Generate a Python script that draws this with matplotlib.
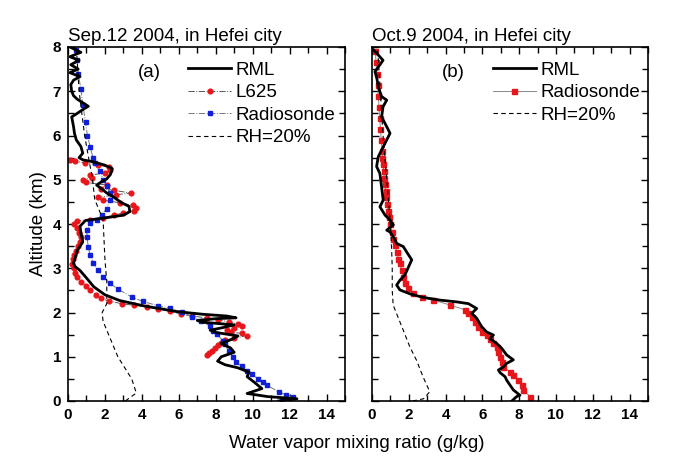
import matplotlib
matplotlib.use("Agg")
import matplotlib.pyplot as plt
from matplotlib.ticker import MultipleLocator

plt.rcParams['font.family'] = ['Liberation Sans', 'DejaVu Sans']

# ---------------- Panel (a): Sep.12 2004 ----------------
rml_a_x = [11.4, 12.4, 10.8, 9.7, 10.5, 10.1, 9.7, 9.8, 9.2, 8.5, 8.1, 8.3, 9.0, 8.8, 8.3, 8.9, 9.2,
           8.0, 7.7, 8.4, 9.0, 7.3, 7.0, 8.0, 9.1, 8.6, 7.3, 5.9, 4.1, 2.8, 2.0, 1.4, 1.0, 0.65, 0.35,
           0.3, 0.4, 0.5, 0.8, 0.7, 0.65, 0.95, 2.2, 3.0, 3.35, 3.3, 2.9, 2.5, 2.1, 1.8, 1.55, 1.8,
           2.1, 2.3, 2.4, 2.0, 1.3, 0.8, 0.6, 0.8, 0.7, 0.45, 0.35, 0.3, 0.2, 0.5, 0.85, 1.1, 0.8,
           0.5, 0.3, 0.2, 0.15, 0.3, 0.65, 0.1, 0.55, 0.15, 0.6, 0.1, 0.7, 0.2]
rml_a_y = [0.00, 0.05, 0.10, 0.17, 0.28, 0.42, 0.55, 0.65, 0.75, 0.82, 0.90, 1.00, 1.10, 1.20, 1.30,
           1.40, 1.47, 1.55, 1.60, 1.66, 1.72, 1.78, 1.82, 1.86, 1.88, 1.92, 1.96, 2.02, 2.15, 2.27,
           2.40, 2.58, 2.78, 2.95, 3.05, 3.12, 3.25, 3.40, 3.60, 3.80, 3.95, 4.08, 4.15, 4.20, 4.28,
           4.40, 4.48, 4.60, 4.70, 4.80, 4.88, 4.95, 5.02, 5.12, 5.25, 5.33, 5.41, 5.45, 5.50, 5.60,
           5.75, 5.90, 6.05, 6.20, 6.42, 6.50, 6.60, 6.66, 6.74, 6.82, 6.90, 7.00, 7.15, 7.25, 7.33,
           7.42, 7.50, 7.60, 7.70, 7.78, 7.88, 7.98]

l625_a_x = [7.5, 7.65, 7.8, 7.95, 8.1, 8.3, 8.5, 9.0, 9.7, 9.4, 8.8, 8.6, 9.0, 9.4, 9.2, 8.7, 8.1,
            7.5, 6.7, 6.1, 5.5, 4.9, 4.3, 3.6, 2.9, 2.2, 1.8, 1.5, 1.2, 0.95, 0.7, 0.5, 0.4, 0.3,
            0.2, 0.25, 0.35, 0.45, 0.55, 0.65, 0.7, 0.6, 0.5, 0.3, 0.5, 1.2, 1.9, 2.5, 3.0, 3.6,
            3.7, 3.5, 2.8, 1.9, 1.6, 2.6, 3.4, 2.5, 1.8, 2.1, 1.0, 0.8, 1.3, 1.2, 2.0, 2.3, 2.2,
            1.6, 0.9, 0.4, 0.1]
l625_a_y = [1.04, 1.09, 1.14, 1.20, 1.26, 1.32, 1.38, 1.42, 1.48, 1.53, 1.55, 1.60, 1.64, 1.69,
            1.74, 1.79, 1.84, 1.88, 1.92, 1.97, 2.03, 2.08, 2.13, 2.16, 2.20, 2.26, 2.32, 2.40,
            2.50, 2.60, 2.70, 2.80, 2.90, 3.00, 3.10, 3.20, 3.30, 3.40, 3.50, 3.60, 3.70, 3.80,
            3.90, 4.00, 4.07, 4.10, 4.14, 4.20, 4.25, 4.30, 4.36, 4.42, 4.48, 4.54, 4.60, 4.66,
            4.70, 4.76, 4.80, 4.88, 4.94, 5.00, 5.05, 5.10, 5.16, 5.22, 5.28, 5.34, 5.38, 5.42,
            5.45]

sonde_a_x = [11.6, 12.2, 11.8, 11.4, 10.75, 10.56, 10.3, 9.94, 9.67, 9.4, 9.1, 8.95, 8.7, 8.5,
             8.4, 8.05, 7.85, 7.67, 7.2, 6.7, 6.2, 5.5, 4.9, 4.05, 3.45, 2.7, 2.27, 1.9, 1.62,
             1.37, 1.2, 1.1, 1.03, 1.03, 1.2, 1.55, 1.82, 2.1, 2.27, 2.27, 2.1, 1.9, 1.75, 1.45,
             1.35, 1.2, 1.05, 0.95, 0.8, 0.7, 0.55, 0.5, 0.45]
sonde_a_y = [0.03, 0.10, 0.14, 0.21, 0.36, 0.44, 0.50, 0.60, 0.68, 0.78, 0.88, 1.00, 1.13, 1.28,
             1.36, 1.51, 1.58, 1.70, 1.81, 1.90, 2.01, 2.10, 2.15, 2.25, 2.35, 2.53, 2.66, 2.81,
             2.96, 3.11, 3.30, 3.48, 3.70, 3.86, 4.02, 4.09, 4.20, 4.35, 4.54, 4.70, 4.85, 5.00,
             5.20, 5.37, 5.50, 5.75, 6.00, 6.30, 6.70, 7.05, 7.40, 7.70, 7.93]

rh_a_x = [3.1, 3.7, 3.45, 2.7, 2.2, 1.9, 1.85, 2.1, 2.1, 2.0, 1.9, 1.45, 1.3, 1.2, 0.9, 0.6, 0.45]
rh_a_y = [0.00, 0.18, 0.50, 1.00, 1.50, 1.80, 2.00, 2.20, 2.70, 3.20, 4.10, 4.55, 5.10, 5.30,
          6.00, 7.00, 8.00]

# ---------------- Panel (b): Oct.9 2004 ----------------
rml_b_x = [7.6, 7.86, 8.04, 7.68, 7.5, 7.32, 7.23, 6.96, 6.87, 7.14, 7.32, 7.68, 7.32, 7.05, 6.78,
           6.41, 6.6, 6.23, 5.96, 5.69, 5.42, 5.69, 5.24, 4.6, 3.7, 2.79, 2.07, 1.52, 1.34, 1.52,
           1.79, 2.16, 1.88, 1.7, 1.34, 1.16, 0.98, 0.8, 1.16, 0.98, 0.71, 0.43, 0.61, 0.52, 0.43,
           0.25, 0.34, 0.52, 0.98, 0.8, 0.52, 0.6, 0.8, 0.52, 0.34, 0.25, 0.16, 0.6, 0.25, 0.0]
rml_b_y = [0.00, 0.10, 0.13, 0.25, 0.36, 0.47, 0.55, 0.64, 0.70, 0.77, 0.85, 0.93, 1.04, 1.19,
           1.30, 1.41, 1.49, 1.56, 1.68, 1.87, 1.98, 2.09, 2.20, 2.24, 2.28, 2.34, 2.42, 2.51,
           2.62, 2.73, 2.85, 3.19, 3.37, 3.49, 3.56, 3.71, 3.82, 3.86, 3.98, 4.09, 4.20, 4.39,
           4.54, 4.84, 5.14, 5.30, 5.52, 5.67, 6.05, 6.20, 6.42, 6.65, 6.80, 6.88, 7.10, 7.33,
           7.44, 7.70, 7.86, 7.97]

sonde_b_x = [8.59, 8.22, 8.13, 7.95, 7.68, 7.5, 7.14, 7.05, 6.96, 6.87, 6.78, 6.6, 6.41, 6.23,
             5.96, 5.78, 5.6, 5.42, 5.24, 5.05, 4.24, 3.33, 2.7, 2.25, 1.98, 1.79, 1.7, 1.61,
             1.52, 1.43, 1.34, 1.25, 1.16, 1.07, 0.98, 0.93, 0.88, 0.83, 0.78, 0.74, 0.7, 0.67,
             0.64, 0.6, 0.57, 0.55, 0.5, 0.46, 0.42, 0.38, 0.34, 0.3, 0.26, 0.22, 0.18]
sonde_b_y = [0.10, 0.25, 0.36, 0.47, 0.59, 0.66, 0.77, 0.89, 1.00, 1.11, 1.23, 1.30, 1.41, 1.49,
             1.56, 1.68, 1.79, 1.90, 1.98, 2.06, 2.17, 2.28, 2.34, 2.43, 2.55, 2.66, 2.81, 2.96,
             3.11, 3.22, 3.37, 3.52, 3.67, 3.82, 4.01, 4.15, 4.30, 4.45, 4.60, 4.75, 4.90, 5.05,
             5.20, 5.35, 5.50, 5.65, 5.90, 6.15, 6.40, 6.65, 6.90, 7.15, 7.40, 7.65, 7.92]

rh_b_x = [2.2, 2.8, 3.14, 2.77, 2.42, 2.06, 1.7, 1.34, 1.15, 1.1, 1.1, 1.07, 1.0, 0.8, 0.6, 0.45, 0.3]
rh_b_y = [0.00, 0.05, 0.21, 0.55, 0.92, 1.22, 1.60, 1.97, 2.17, 2.50, 3.00, 3.40, 4.00, 5.00,
          6.00, 7.00, 8.00]

titles = ["Sep.12 2004, in Hefei city", "Oct.9 2004, in Hefei city"]
panel_tags = ["(a)", "(b)"]

FS = 13.5

fig = plt.figure(figsize=(6.79, 4.72), dpi=100)
axA = fig.add_axes([68/679, 1-401/472, (345-68)/679, (401-47)/472])
axB = fig.add_axes([372/679, 1-401/472, (648-372)/679, (401-47)/472])

# panel a
axA.plot(l625_a_x, l625_a_y, linestyle='-.', color='#555555', lw=0.7,
         marker='o', ms=3.4, mfc='#e8161b', mec='#e8161b', label='L625')
axA.plot(sonde_a_x, sonde_a_y, linestyle='-.', color='#777777', lw=0.7,
         marker='s', ms=3.4, mfc='#1020d8', mec='#1020d8', label='Radiosonde')
axA.plot(rml_a_x, rml_a_y, color='black', lw=2.0, label='RML', zorder=3)
axA.plot(rh_a_x, rh_a_y, color='black', lw=0.8, linestyle=(0, (4, 3)), label='RH=20%')

# panel b
axB.plot(sonde_b_x, sonde_b_y, linestyle='-', color='#888888', lw=0.7,
         marker='s', ms=3.6, mfc='#e8161b', mec='#e8161b', label='Radiosonde')
axB.plot(rml_b_x, rml_b_y, color='black', lw=2.0, label='RML', zorder=3)
axB.plot(rh_b_x, rh_b_y, color='black', lw=0.8, linestyle=(0, (4, 3)), label='RH=20%')

for ax, title, tag in [(axA, titles[0], panel_tags[0]), (axB, titles[1], panel_tags[1])]:
    ax.set_xlim(0, 15)
    ax.set_ylim(0, 8)
    ax.xaxis.set_major_locator(MultipleLocator(2))
    ax.xaxis.set_minor_locator(MultipleLocator(1))
    ax.yaxis.set_major_locator(MultipleLocator(1))
    ax.yaxis.set_minor_locator(MultipleLocator(0.5))
    ax.tick_params(which='both', direction='in', top=True, right=True, width=1.0)
    ax.tick_params(which='major', length=5, pad=5)
    ax.tick_params(which='minor', length=4)
    for s in ax.spines.values():
        s.set_linewidth(1.2)
    for lab in ax.get_xticklabels() + ax.get_yticklabels():
        lab.set_fontweight('bold')
        lab.set_fontsize(11)
    ax.set_title(title, loc='left', fontsize=FS, pad=4)
    ax.text(4.4, 7.43, tag, fontsize=FS, ha='center', va='center')

axB.tick_params(labelleft=False)
axA.set_ylabel("Altitude (km)", fontsize=FS, labelpad=4)

hA, lA = axA.get_legend_handles_labels()
order = ['RML', 'L625', 'Radiosonde', 'RH=20%']
hA = [hA[lA.index(o)] for o in order]
axA.legend(hA, order, loc='upper left', bbox_to_anchor=(0.433, 0.958), frameon=False,
           fontsize=FS, handlelength=2.3, handletextpad=0.25, labelspacing=0.28,
           borderpad=0, borderaxespad=0, numpoints=1)

hB, lB = axB.get_legend_handles_labels()
orderB = ['RML', 'Radiosonde', 'RH=20%']
hB = [hB[lB.index(o)] for o in orderB]
axB.legend(hB, orderB, loc='upper left', bbox_to_anchor=(0.438, 0.958), frameon=False,
           fontsize=FS, handlelength=2.3, handletextpad=0.25, labelspacing=0.28,
           borderpad=0, borderaxespad=0, numpoints=1)

fig.text(357/679, 1-443/472, "Water vapor mixing ratio (g/kg)", fontsize=FS,
         ha='center', va='center')

fig.savefig("out.png", dpi=100)
